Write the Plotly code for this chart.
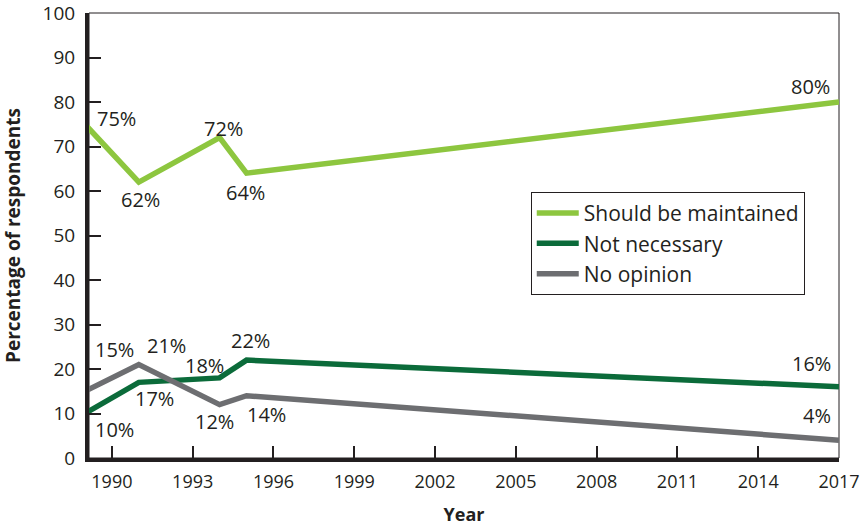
import plotly.graph_objects as go

# Survey years and responses (percent of respondents)
years = [1989, 1991, 1994, 1995, 2017]
maintained = [75, 62, 72, 64, 80]
not_necessary = [10, 17, 18, 22, 16]
no_opinion = [15, 21, 12, 14, 4]

series_names = ["Should be maintained", "Not necessary", "No opinion"]
series_colors = ["#8DC63F", "#0B6B3A", "#6D6E71"]

# x-axis window and plot width (px) used to place labels near the left edge
X0, X1 = 1989.15, 2017
PLOT_W = 750
px_per_year = PLOT_W / (X1 - X0)

# Pixel offsets for each value label relative to its point (xshift, yshift)
label_offsets = [
    [(32, 6), (2, -17), (4, 9), (-1, -19), (-29, 16)],
    [(30, -16), (16, -16), (-15, 12), (4, 20), (-28, 23)],
    [(30, 42), (28, 19), (-5, -17), (20, -19), (-22, 25)],
]

TEXT = "#231F20"
FONT = "Open Sans"

fig = go.Figure()
all_series = [maintained, not_necessary, no_opinion]
for i, (name, vals, col) in enumerate(zip(series_names, all_series, series_colors)):
    fig.add_trace(go.Scatter(
        x=years, y=vals, mode="lines", name=name,
        line=dict(color=col, width=5.5),
        legendgroup=f"g{i}",
    ))
    for (yr, v), (dx, dy) in zip(zip(years, vals), label_offsets[i]):
        # keep the anchor inside the visible x window, compensate with the shift
        anchor = max(yr, X0)
        fig.add_annotation(
            x=anchor, y=v, text=f"{v}%", showarrow=False,
            xshift=dx + (yr - anchor) * px_per_year, yshift=dy,
            font=dict(family=FONT, size=20, color=TEXT),
        )

# thin frame on top and right
fig.add_shape(type="rect", xref="paper", yref="paper", x0=0, y0=0, x1=1, y1=1,
              line=dict(color=TEXT, width=1), layer="below")

fig.update_layout(
    width=864, height=526,
    margin=dict(l=89, r=25, t=13, b=68, autoexpand=False),
    paper_bgcolor="white", plot_bgcolor="white",
    font=dict(family=FONT, color=TEXT, size=19),
    showlegend=True,
    legend=dict(
        x=0.589, y=0.598, xanchor="left", yanchor="top",
        bordercolor=TEXT, borderwidth=1, bgcolor="white",
        font=dict(family=FONT, size=21, color=TEXT),
        traceorder="grouped", tracegroupgap=0,
        itemwidth=42,
    ),
    xaxis=dict(
        range=[X0, X1], tickmode="array",
        tickvals=list(range(1990, 2018, 3)),
        ticks="inside", ticklen=12, tickwidth=1.5, tickcolor=TEXT,
        showline=True, linecolor=TEXT, linewidth=4,
        showgrid=False, zeroline=False, automargin=False,
        ticklabelstandoff=4,
        tickfont=dict(family=FONT, size=18, color=TEXT),
        title=dict(text="<b>Year</b>", font=dict(family=FONT, size=18, color=TEXT), standoff=23),
    ),
    yaxis=dict(
        range=[0, 100], tickmode="array", tickvals=list(range(0, 101, 10)),
        ticks="inside", ticklen=12, tickwidth=1.5, tickcolor=TEXT,
        showline=True, linecolor=TEXT, linewidth=4,
        showgrid=False, zeroline=False, automargin=False,
        ticklabeloverflow="allow", ticklabelstandoff=6,
        tickfont=dict(family=FONT, size=19, color=TEXT),
        title=dict(text="<b>Percentage of respondents</b>", font=dict(family=FONT, size=19, color=TEXT), standoff=18),
    ),
)

fig.write_html("out.html")
